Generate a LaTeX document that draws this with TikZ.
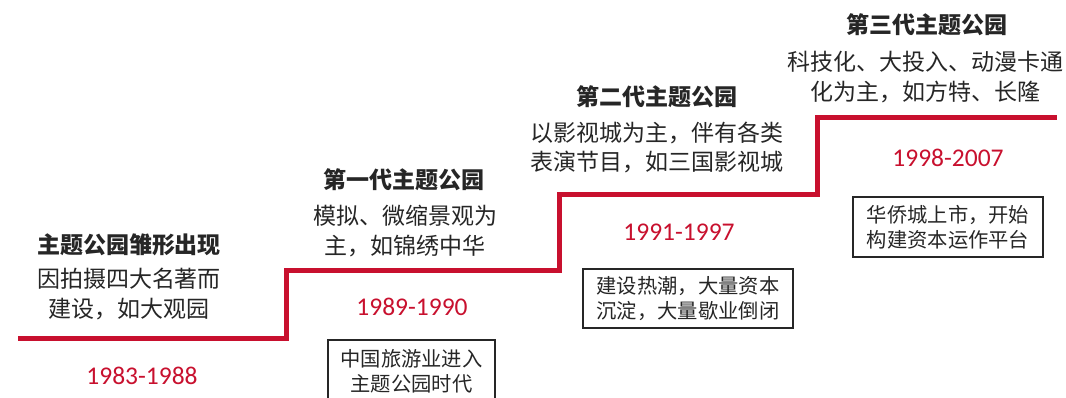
\documentclass[tikz,border=0pt]{standalone}
\usepackage{fontspec}
\setmainfont{Carlito}
\newfontfamily\cjk{Noto Sans CJK SC}
\definecolor{stepred}{HTML}{C8102E}
\definecolor{txt}{HTML}{262626}
\tikzset{
  stairline/.style={draw=stepred, line width=5pt, line join=miter},
  titletext/.style={text=txt, font=\cjk\bfseries\fontsize{23}{27}\selectfont, inner sep=0pt},
  desctext/.style={text=txt, font=\cjk\fontsize{23}{29.5}\selectfont, align=center, inner sep=0pt},
  yeartext/.style={text=stepred, font=\fontsize{25.5}{29}\selectfont, inner sep=0pt},
  notebox/.style={draw=txt, line width=1.2pt, text=txt, font=\cjk\fontsize{20.3}{25}\selectfont, align=center, inner sep=0pt},
}
\begin{document}
\begin{tikzpicture}[x=1pt,y=-1pt]
\useasboundingbox (0,0) rectangle (1066,398);
% stair line
\coordinate (s0) at (18,338.5);
\coordinate (s1) at (286,338.5);
\coordinate (s2) at (286,271);
\coordinate (s3) at (559,271);
\coordinate (s4) at (559,195);
\coordinate (s5) at (817,195);
\coordinate (s6) at (817,118);
\coordinate (s7) at (1057,118);
\draw[stairline] (s0) -- (s1) -- (s2) -- (s3) -- (s4) -- (s5) -- (s6) -- (s7);
% block 1
\node[titletext] (t1) at (129,245) {主题公园雏形出现};
\node[desctext] (d1) at (129,294) {因拍摄四大名著而\\建设，如大观园};
\node[yeartext] (y1) at (142,376) {1983-1988};
% block 2
\node[titletext] (t2) at (404,180) {第一代主题公园};
\node[desctext] (d2) at (405,231) {模拟、微缩景观为\\主，如锦绣中华};
\node[yeartext] (y2) at (412,307) {1989-1990};
\node[notebox, minimum width=167pt, minimum height=62pt] (b2) at (411.5,371) {中国旅游业进入\\主题公园时代};
% block 3
\node[titletext] (t3) at (657,97) {第二代主题公园};
\node[desctext] (d3) at (657,147.5) {以影视城为主，伴有各类\\表演节目，如三国影视城};
\node[yeartext] (y3) at (679,232) {1991-1997};
\node[notebox, minimum width=210pt, minimum height=59pt] (b3) at (688,298.5) {建设热潮，大量资本\\沉淀，大量歇业倒闭};
% block 4
\node[titletext] (t4) at (927,25) {第三代主题公园};
\node[desctext] (d4) at (925,77) {科技化、大投入、动漫卡通\\化为主，如方特、长隆};
\node[yeartext] (y4) at (948,158) {1998-2007};
\node[notebox, minimum width=190pt, minimum height=60pt] (b4) at (948,227) {华侨城上市，开始\\构建资本运作平台};
\end{tikzpicture}
\end{document}
